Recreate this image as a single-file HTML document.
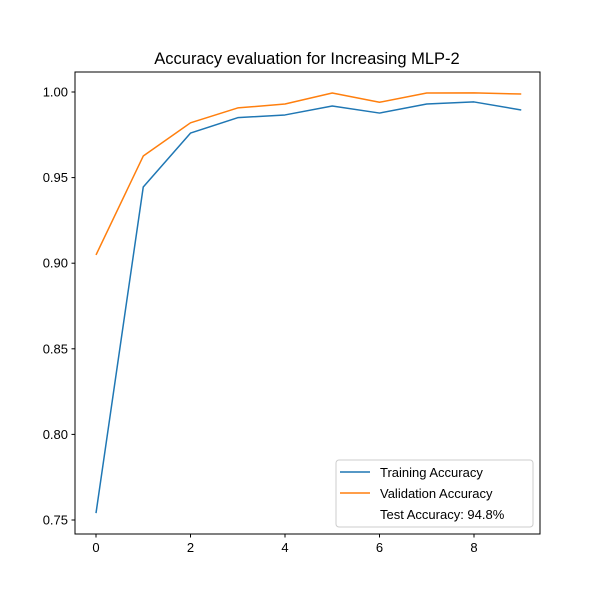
<!DOCTYPE html>
<html><head><meta charset="utf-8"><style>
body{margin:0;background:#fff}
svg{font-family:"Liberation Sans","DejaVu Sans",sans-serif}
</style></head><body>
<svg id="chart" width="600" height="600" xmlns="http://www.w3.org/2000/svg">
<rect width="600" height="600" fill="#fff"/>
<text x="307" y="64" font-size="16.5" text-anchor="middle">Accuracy evaluation for Increasing MLP-2</text>
<g id="ticks"></g>
<g id="series"></g>
<rect x="75" y="72" width="465" height="462" fill="none" stroke="#000" stroke-width="1"/>
<g>
<rect x="336" y="460" width="197" height="67" rx="3" fill="#fff" fill-opacity="0.8" stroke="#ccc"/>
<line x1="340" y1="472" x2="370" y2="472" stroke="#1f77b4" stroke-width="1.5"/>
<text x="380" y="477" font-size="13">Training Accuracy</text>
<line x1="340" y1="493" x2="370" y2="493" stroke="#ff7f0e" stroke-width="1.5"/>
<text x="380" y="498" font-size="13">Validation Accuracy</text>
<text x="380" y="519" font-size="13">Test Accuracy: 94.8%</text>
</g>
</svg>
<script>
const epochs=[0,1,2,3,4,5,6,7,8,9];
const trainingAccuracy=[0.754,0.9445,0.976,0.985,0.9866,0.9918,0.9877,0.993,0.9942,0.9895];
const validationAccuracy=[0.9048,0.9626,0.982,0.9907,0.993,0.9994,0.994,0.9994,0.9995,0.9988];
const xTicks=[0,2,4,6,8];
const yTicks=[0.75,0.80,0.85,0.90,0.95,1.00];
const NS="http://www.w3.org/2000/svg";
const X=v=>96+v*47.25;
const Y=v=>520-(v-0.75)*1712;
const tg=document.getElementById('ticks');
function mk(t,a,p){const e=document.createElementNS(NS,t);for(const k in a)e.setAttribute(k,a[k]);p.appendChild(e);return e;}
xTicks.forEach(v=>{
 const l=mk('line',{x1:X(v),x2:X(v),y1:534,y2:537.5,stroke:'#000'},tg);
 
 
 const t=mk('text',{x:X(v),y:552,'font-size':13,'text-anchor':'middle'},tg);t.textContent=v;
 
 
});
yTicks.forEach(v=>{
 const l=mk('line',{x1:71.5,x2:75,y1:Y(v),y2:Y(v),stroke:'#000'},tg);
 
 
 const t=mk('text',{x:68,y:Y(v)+4.5,'font-size':13,'text-anchor':'end'},tg);t.textContent=v.toFixed(2);
 
 
});
const sg=document.getElementById('series');
function line(vals,color,name){
 const p=mk('polyline',{points:vals.map((v,i)=>X(epochs[i])+','+Y(v)).join(' '),fill:'none',stroke:color,'stroke-width':1.5,'stroke-linejoin':'round'},sg);
 
 
}
line(trainingAccuracy,'#1f77b4','training-accuracy-line');
line(validationAccuracy,'#ff7f0e','validation-accuracy-line');
</script>
</body></html>
